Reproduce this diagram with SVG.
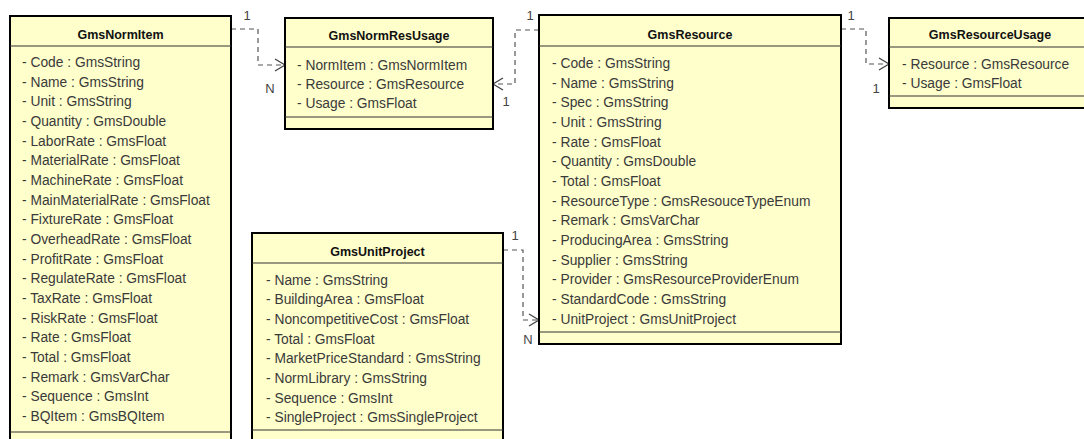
<svg xmlns="http://www.w3.org/2000/svg" width="1084" height="439" viewBox="0 0 1084 439">
<defs>
<style>
.box{fill:#FFFFCC;stroke:#000;stroke-width:2}
.sep{stroke:#333;stroke-width:1.2}
.title{font-family:"Liberation Sans",Arial,sans-serif;font-size:12.5px;font-weight:bold;fill:#111;text-anchor:middle}
.attr{font-family:"Liberation Sans",Arial,sans-serif;font-size:13.8px;fill:#3a3a3a}
.conn{fill:none;stroke:#555;stroke-width:1.2;stroke-dasharray:5,4}
.head{fill:none;stroke:#444;stroke-width:1.3}
.mult{font-family:"Liberation Sans",Arial,sans-serif;font-size:13px;fill:#444;text-anchor:middle}
</style>
</defs>
<rect width="1084" height="439" fill="#fff"/>
<g id="connectors">
<path class="conn" d="M231,29 H258 V65 H283"/>
<path class="head" d="M275,59 L285,65 L275,71"/>
<text class="mult" x="247" y="20">1</text>
<text class="mult" x="270" y="93">N</text>
<path class="conn" d="M539,30 H515 V84 H495"/>
<path class="head" d="M503,78 L493,84 L503,90"/>
<text class="mult" x="530" y="20">1</text>
<text class="mult" x="506" y="106">1</text>
<path class="conn" d="M841,29 H866 V64 H887"/>
<path class="head" d="M879,58 L889,64 L879,70"/>
<text class="mult" x="851" y="20">1</text>
<text class="mult" x="876" y="93">1</text>
<path class="conn" d="M503,250 H523 V320 H537"/>
<path class="head" d="M529,314 L539,320 L529,326"/>
<text class="mult" x="515" y="240">1</text>
<text class="mult" x="528" y="344">N</text>
</g>
<g id="GmsNormItem">
<rect class="box" x="10" y="16" width="221" height="450"/>
<line class="sep" x1="10" y1="46" x2="231" y2="46"/>
<line class="sep" x1="10" y1="432" x2="231" y2="432"/>
<text class="title" x="120.5" y="39">GmsNormItem</text>
<text class="attr" x="22" y="67">- Code : GmsString</text>
<text class="attr" x="22" y="86.67">- Name : GmsString</text>
<text class="attr" x="22" y="106.33">- Unit : GmsString</text>
<text class="attr" x="22" y="126">- Quantity : GmsDouble</text>
<text class="attr" x="22" y="145.67">- LaborRate : GmsFloat</text>
<text class="attr" x="22" y="165.33">- MaterialRate : GmsFloat</text>
<text class="attr" x="22" y="185">- MachineRate : GmsFloat</text>
<text class="attr" x="22" y="204.67">- MainMaterialRate : GmsFloat</text>
<text class="attr" x="22" y="224.33">- FixtureRate : GmsFloat</text>
<text class="attr" x="22" y="244">- OverheadRate : GmsFloat</text>
<text class="attr" x="22" y="263.67">- ProfitRate : GmsFloat</text>
<text class="attr" x="22" y="283.33">- RegulateRate : GmsFloat</text>
<text class="attr" x="22" y="303">- TaxRate : GmsFloat</text>
<text class="attr" x="22" y="322.67">- RiskRate : GmsFloat</text>
<text class="attr" x="22" y="342.33">- Rate : GmsFloat</text>
<text class="attr" x="22" y="362">- Total : GmsFloat</text>
<text class="attr" x="22" y="381.67">- Remark : GmsVarChar</text>
<text class="attr" x="22" y="401.33">- Sequence : GmsInt</text>
<text class="attr" x="22" y="421">- BQItem : GmsBQItem</text>
</g>
<g id="GmsNormResUsage">
<rect class="box" x="285" y="18" width="208" height="111"/>
<line class="sep" x1="285" y1="47" x2="493" y2="47"/>
<line class="sep" x1="285" y1="117" x2="493" y2="117"/>
<text class="title" x="389" y="40">GmsNormResUsage</text>
<text class="attr" x="297" y="69.5">- NormItem : GmsNormItem</text>
<text class="attr" x="297" y="89">- Resource : GmsResource</text>
<text class="attr" x="297" y="108">- Usage : GmsFloat</text>
</g>
<g id="GmsResource">
<rect class="box" x="539" y="15" width="302" height="329"/>
<line class="sep" x1="539" y1="46" x2="841" y2="46"/>
<line class="sep" x1="539" y1="332" x2="841" y2="332"/>
<text class="title" x="690" y="39">GmsResource</text>
<text class="attr" x="552" y="68">- Code : GmsString</text>
<text class="attr" x="552" y="87.67">- Name : GmsString</text>
<text class="attr" x="552" y="107.33">- Spec : GmsString</text>
<text class="attr" x="552" y="127">- Unit : GmsString</text>
<text class="attr" x="552" y="146.67">- Rate : GmsFloat</text>
<text class="attr" x="552" y="166.33">- Quantity : GmsDouble</text>
<text class="attr" x="552" y="186">- Total : GmsFloat</text>
<text class="attr" x="552" y="205.67">- ResourceType : GmsResouceTypeEnum</text>
<text class="attr" x="552" y="225.33">- Remark : GmsVarChar</text>
<text class="attr" x="552" y="245">- ProducingArea : GmsString</text>
<text class="attr" x="552" y="264.67">- Supplier : GmsString</text>
<text class="attr" x="552" y="284.33">- Provider : GmsResourceProviderEnum</text>
<text class="attr" x="552" y="304">- StandardCode : GmsString</text>
<text class="attr" x="552" y="323.67">- UnitProject : GmsUnitProject</text>
</g>
<g id="GmsResourceUsage">
<rect class="box" x="889" y="18" width="203" height="90"/>
<line class="sep" x1="889" y1="47" x2="1092" y2="47"/>
<line class="sep" x1="889" y1="96" x2="1092" y2="96"/>
<text class="title" x="990" y="39">GmsResourceUsage</text>
<text class="attr" x="902" y="68.5">- Resource : GmsResource</text>
<text class="attr" x="902" y="88">- Usage : GmsFloat</text>
</g>
<g id="GmsUnitProject">
<rect class="box" x="252" y="233" width="251" height="230"/>
<line class="sep" x1="252" y1="263" x2="503" y2="263"/>
<line class="sep" x1="252" y1="430" x2="503" y2="430"/>
<text class="title" x="377.5" y="255.5">GmsUnitProject</text>
<text class="attr" x="266" y="284.5">- Name : GmsString</text>
<text class="attr" x="266" y="304.17">- BuildingArea : GmsFloat</text>
<text class="attr" x="266" y="323.83">- NoncompetitiveCost : GmsFloat</text>
<text class="attr" x="266" y="343.5">- Total : GmsFloat</text>
<text class="attr" x="266" y="363.17">- MarketPriceStandard : GmsString</text>
<text class="attr" x="266" y="382.83">- NormLibrary : GmsString</text>
<text class="attr" x="266" y="402.5">- Sequence : GmsInt</text>
<text class="attr" x="266" y="422.17">- SingleProject : GmsSingleProject</text>
</g>
</svg>
